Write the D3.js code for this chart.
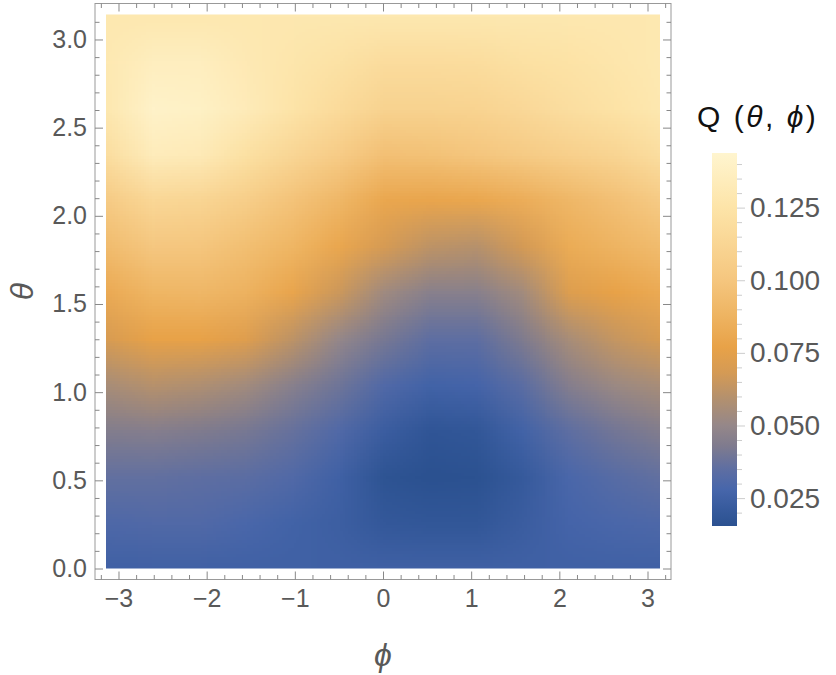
<!DOCTYPE html>
<html>
<head>
<meta charset="utf-8">
<script src="https://cdn.jsdelivr.net/npm/d3@7"></script>
<style>
  html, body { margin: 0; padding: 0; background: #fff; }
  svg { display: block; font-family: "Liberation Sans", Arial, sans-serif; }
</style>
</head>
<body>
<div id="chart"></div>
<script>
// grid of sample points (phi across, theta up)
var phiVals = d3.range(13).map(function (j) { return -Math.PI + j * Math.PI / 6; });
var thetaVals = d3.range(13).map(function (i) { return i * Math.PI / 12; });

// Q(theta, phi), one row per theta (theta = 0 first)
var qRows = [
  [0.025, 0.025, 0.025, 0.025, 0.025, 0.025, 0.025, 0.025, 0.025, 0.025, 0.025, 0.025, 0.025],
  [0.030, 0.031, 0.031, 0.029, 0.026, 0.024, 0.020, 0.019, 0.019, 0.023, 0.027, 0.029, 0.030],
  [0.036, 0.036, 0.035, 0.034, 0.031, 0.025, 0.017, 0.0155, 0.016, 0.021, 0.029, 0.033, 0.036],
  [0.044, 0.045, 0.043, 0.041, 0.037, 0.031, 0.023, 0.018, 0.019, 0.026, 0.035, 0.040, 0.044],
  [0.056, 0.060, 0.058, 0.054, 0.046, 0.039, 0.031, 0.026, 0.027, 0.034, 0.045, 0.052, 0.056],
  [0.070, 0.077, 0.077, 0.073, 0.062, 0.050, 0.041, 0.035, 0.035, 0.043, 0.056, 0.064, 0.070],
  [0.082, 0.089, 0.090, 0.087, 0.079, 0.066, 0.053, 0.046, 0.046, 0.054, 0.072, 0.077, 0.082],
  [0.093, 0.101, 0.100, 0.095, 0.089, 0.080, 0.069, 0.062, 0.060, 0.068, 0.083, 0.088, 0.093],
  [0.104, 0.114, 0.112, 0.106, 0.098, 0.090, 0.080, 0.079, 0.080, 0.084, 0.090, 0.096, 0.104],
  [0.120, 0.134, 0.132, 0.122, 0.113, 0.105, 0.096, 0.097, 0.100, 0.104, 0.108, 0.112, 0.120],
  [0.129, 0.141, 0.139, 0.133, 0.125, 0.117, 0.110, 0.110, 0.111, 0.115, 0.120, 0.124, 0.129],
  [0.130, 0.136, 0.136, 0.131, 0.127, 0.123, 0.118, 0.118, 0.119, 0.122, 0.124, 0.127, 0.130],
  [0.129, 0.129, 0.129, 0.129, 0.129, 0.129, 0.129, 0.129, 0.129, 0.129, 0.129, 0.129, 0.129]
];

// colour gradient
var colorDomain = [0.0154, 0.021, 0.028, 0.035, 0.043, 0.050, 0.059, 0.068, 0.077, 0.088, 0.100, 0.112, 0.125, 0.1438];
var colorRange = ["#2b5190", "#365a9c", "#4766ab", "#5e6ea2", "#7f7b8e", "#958789", "#b2906f",
                  "#d49a55", "#e8a248", "#eeb462", "#f5c67e", "#f9d593", "#fde4a8", "#fff5cf"];

var xTicks = [-3, -2, -1, 0, 1, 2, 3];
var yTicks = [0, 0.5, 1, 1.5, 2, 2.5, 3];
var barTicks = [0.025, 0.05, 0.075, 0.1, 0.125];

var width = 836, height = 675;
var pad = 11;

var x = d3.scaleLinear().domain([-Math.PI, Math.PI]).range([106, 660]);
var y = d3.scaleLinear().domain([0, Math.PI]).range([568.5, 14.5]);
var color = d3.scaleLinear().domain(colorDomain).range(colorRange).interpolate(d3.interpolateRgb);

var svg = d3.select('#chart').append('svg')
  .attr('width', width)
  .attr('height', height);

// density image: one pixel per sample, smoothed by the browser when scaled
var canvas = document.createElement('canvas');
canvas.width = phiVals.length;
canvas.height = thetaVals.length;
var ctx = canvas.getContext('2d');
var img = ctx.createImageData(canvas.width, canvas.height);
qRows.forEach(function (row, i) {
  row.forEach(function (v, j) {
    var c = d3.rgb(color(v));
    var k = ((thetaVals.length - 1 - i) * canvas.width + j) * 4;
    img.data[k] = c.r; img.data[k + 1] = c.g; img.data[k + 2] = c.b; img.data[k + 3] = 255;
  });
});
ctx.putImageData(img, 0, 0);

var dx = x(phiVals[1]) - x(phiVals[0]);
var dy = y(thetaVals[0]) - y(thetaVals[1]);

svg.append('clipPath').attr('id', 'clip')
  .append('rect')
  .attr('x', x(-Math.PI)).attr('y', y(Math.PI))
  .attr('width', x(Math.PI) - x(-Math.PI))
  .attr('height', y(0) - y(Math.PI));

svg.append('image')
  .attr('href', canvas.toDataURL())
  .attr('x', x(phiVals[0]) - dx / 2)
  .attr('y', y(thetaVals[thetaVals.length - 1]) - dy / 2)
  .attr('width', dx * phiVals.length)
  .attr('height', dy * thetaVals.length)
  .attr('preserveAspectRatio', 'none')
  .attr('clip-path', 'url(#clip)')
  .style('image-rendering', 'auto');

// frame
var fx0 = x.range()[0] - pad, fx1 = x.range()[1] + pad;
var fy0 = y.range()[1] - pad, fy1 = y.range()[0] + pad;

svg.append('rect')
  .attr('x', fx0).attr('y', fy0)
  .attr('width', fx1 - fx0).attr('height', fy1 - fy0)
  .attr('fill', 'none')
  .attr('stroke', '#999')
  .attr('stroke-width', 1);

var xMinor = d3.range(-3.2, 3.21, 0.2).filter(function (v) { return Math.abs(v - Math.round(v)) > 0.01; });
var yMinor = d3.range(0, 3.15, 0.1).filter(function (v) { return Math.abs(v * 2 - Math.round(v * 2)) > 0.01; });

function styleAxis(g) {
  g.select('.domain').remove();
  g.selectAll('.tick line').attr('stroke', '#888');
  g.selectAll('text').attr('fill', '#595959').style('font-size', '25px');
}

// bottom / top
svg.append('g').attr('transform', 'translate(0,' + fy1 + ')')
  .call(d3.axisBottom(x).tickValues(xTicks).tickSize(-8).tickPadding(10).tickFormat(d3.format('d')))
  .call(styleAxis);
svg.append('g').attr('transform', 'translate(0,' + fy1 + ')')
  .call(d3.axisBottom(x).tickValues(xMinor).tickSize(-4.5).tickFormat(''))
  .call(styleAxis);
svg.append('g').attr('transform', 'translate(0,' + fy0 + ')')
  .call(d3.axisTop(x).tickValues(xTicks).tickSize(-8).tickFormat(''))
  .call(styleAxis);
svg.append('g').attr('transform', 'translate(0,' + fy0 + ')')
  .call(d3.axisTop(x).tickValues(xMinor).tickSize(-4.5).tickFormat(''))
  .call(styleAxis);

// left / right
svg.append('g').attr('transform', 'translate(' + fx0 + ',0)')
  .call(d3.axisLeft(y).tickValues(yTicks).tickSize(-8).tickPadding(8).tickFormat(d3.format('.1f')))
  .call(styleAxis);
svg.append('g').attr('transform', 'translate(' + fx0 + ',0)')
  .call(d3.axisLeft(y).tickValues(yMinor).tickSize(-4.5).tickFormat(''))
  .call(styleAxis);
svg.append('g').attr('transform', 'translate(' + fx1 + ',0)')
  .call(d3.axisRight(y).tickValues(yTicks).tickSize(-8).tickFormat(''))
  .call(styleAxis);
svg.append('g').attr('transform', 'translate(' + fx1 + ',0)')
  .call(d3.axisRight(y).tickValues(yMinor).tickSize(-4.5).tickFormat(''))
  .call(styleAxis);

// axis titles
svg.append('text')
  .attr('x', (fx0 + fx1) / 2).attr('y', 666)
  .attr('text-anchor', 'middle')
  .attr('fill', '#595959')
  .style('font-size', '32px').style('font-style', 'italic')
  .text('ϕ');
svg.append('text')
  .attr('transform', 'translate(33,' + (fy0 + fy1) / 2 + ') rotate(-90)')
  .attr('text-anchor', 'middle')
  .attr('fill', '#595959')
  .style('font-size', '32px').style('font-style', 'italic')
  .text('θ');

// colour bar
var barX = 712, barW = 25;
var yBar = d3.scaleLinear().domain([colorDomain[0], colorDomain[colorDomain.length - 1]]).range([526, 153]);

var grad = svg.append('defs').append('linearGradient')
  .attr('id', 'bar').attr('x1', 0).attr('y1', 1).attr('x2', 0).attr('y2', 0);
grad.selectAll('stop').data(colorDomain).enter().append('stop')
  .attr('offset', function (d) { return (d - colorDomain[0]) / (colorDomain[colorDomain.length - 1] - colorDomain[0]); })
  .attr('stop-color', function (d) { return color(d); });

svg.append('rect')
  .attr('x', barX).attr('y', yBar.range()[1])
  .attr('width', barW).attr('height', yBar.range()[0] - yBar.range()[1])
  .attr('fill', 'url(#bar)');

var barMinor = d3.range(0.02, 0.1438, 0.005).filter(function (v) { return Math.abs(v / 0.025 - Math.round(v / 0.025)) > 0.01; });

svg.append('g').attr('transform', 'translate(' + (barX + barW) + ',0)')
  .call(d3.axisRight(yBar).tickValues(barMinor).tickSize(5).tickFormat(''))
  .call(styleAxis)
  .selectAll('.tick line').attr('stroke', '#ccc');
svg.append('g').attr('transform', 'translate(' + (barX + barW) + ',0)')
  .call(d3.axisRight(yBar).tickValues(barTicks).tickSize(8).tickPadding(5).tickFormat(d3.format('.3f')))
  .call(styleAxis)
  .call(function (g) {
    g.selectAll('.tick line').attr('stroke', '#ccc');
    g.selectAll('text').style('font-size', '28px');
  });

var title = svg.append('text')
  .attr('x', 697).attr('y', 127)
  .attr('fill', '#111')
  .style('font-size', '30px')
  .style('letter-spacing', '2.5px');
title.append('tspan').text('Q (');
title.append('tspan').style('font-style', 'italic').text('θ');
title.append('tspan').text(', ');
title.append('tspan').style('font-style', 'italic').text('ϕ');
title.append('tspan').text(')');
</script>
</body>
</html>
